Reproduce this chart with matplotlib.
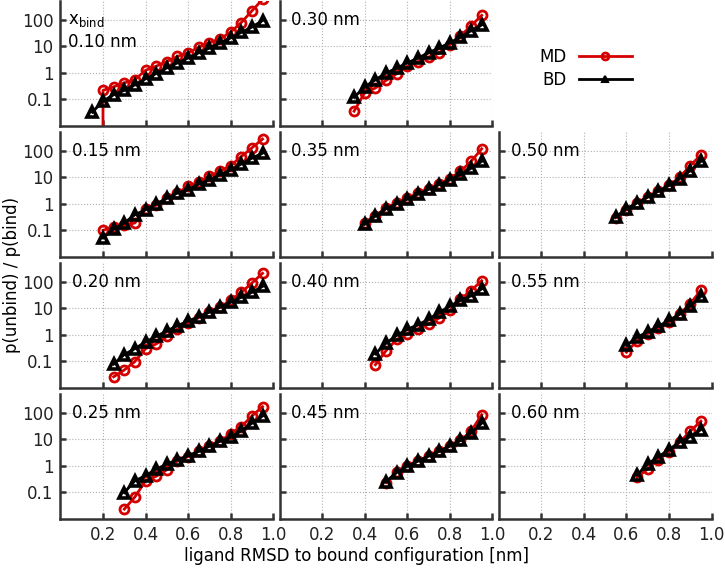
import matplotlib
matplotlib.use('Agg')
from matplotlib import pyplot as plt

# ligand RMSD grid (nm); each panel uses the last len(values) points
rmsd = [0.15, 0.20, 0.25, 0.30, 0.35, 0.40, 0.45, 0.50, 0.55,
        0.60, 0.65, 0.70, 0.75, 0.80, 0.85, 0.90, 0.95]

# x_bind of each panel, in column order (None = legend panel)
x_bind = [
    ['0.10', '0.30', None],
    ['0.15', '0.35', '0.50'],
    ['0.20', '0.40', '0.55'],
    ['0.25', '0.45', '0.60'],
]

md = {
    '0.10': [0, 0.22, 0.30, 0.42, 0.56, 1.26, 1.8, 2.7, 4.2, 5.7, 9.3, 14, 19, 35, 80, 220, 600],
    '0.15': [0.10, 0.14, 0.155, 0.19, 0.66, 0.88, 1.7, 2.6, 4.6, 6.6, 11, 17, 28, 61, 130, 280],
    '0.20': [0.026, 0.047, 0.098, 0.30, 0.45, 0.87, 1.66, 2.7, 4.4, 7.3, 11, 20, 40, 90, 210],
    '0.25': [0.023, 0.066, 0.27, 0.40, 0.70, 1.5, 2.2, 3.5, 5.5, 8.4, 16, 30, 75, 170],
    '0.30': [0.036, 0.18, 0.27, 0.52, 0.93, 1.8, 2.7, 4.0, 5.6, 11.5, 25, 60, 150],
    '0.35': [0.19, 0.35, 0.70, 1.1, 1.6, 2.5, 3.8, 5.5, 9, 17, 40, 120],
    '0.40': [0.074, 0.25, 0.67, 1.05, 1.7, 2.5, 4.3, 8.3, 22, 47, 110],
    '0.45': [0.23, 0.60, 1.0, 1.5, 2.3, 3.5, 5.5, 9, 20, 85],
    '0.50': [0.30, 0.60, 1.1, 1.8, 3.0, 5.0, 10, 28, 70],
    '0.55': [0.22, 0.60, 1.1, 1.8, 3.0, 6.0, 15, 48],
    '0.60': [0.37, 0.75, 1.7, 3.3, 7.6, 20, 48],
}

bd = {
    '0.10': [0.033, 0.087, 0.15, 0.22, 0.36, 0.60, 0.95, 1.55, 2.4, 3.7, 5.7, 8.7, 13.5, 21, 34, 54, 95],
    '0.15': [0.052, 0.11, 0.19, 0.39, 0.60, 1.0, 1.6, 2.6, 3.4, 5.6, 8.1, 12.5, 19, 32, 53, 82],
    '0.20': [0.078, 0.18, 0.30, 0.54, 0.87, 1.4, 2.2, 3.3, 4.8, 7.2, 11, 17, 26, 40, 67],
    '0.25': [0.096, 0.27, 0.42, 0.74, 1.15, 1.7, 2.4, 3.5, 5.5, 8.4, 12, 21, 40, 75],
    '0.30': [0.12, 0.30, 0.55, 1.0, 1.5, 2.4, 3.6, 5.9, 8.6, 14, 22, 40, 65],
    '0.35': [0.17, 0.35, 0.65, 1.0, 1.5, 2.3, 3.5, 5.3, 8, 13, 22, 40],
    '0.40': [0.19, 0.48, 0.95, 1.6, 2.4, 3.8, 7, 12, 20, 30, 54],
    '0.45': [0.25, 0.55, 0.95, 1.5, 2.3, 3.5, 5.5, 9, 17, 40],
    '0.50': [0.32, 0.65, 1.1, 1.8, 3.0, 5.0, 9, 18, 40],
    '0.55': [0.40, 0.80, 1.3, 2.1, 3.5, 6.0, 12, 28],
    '0.60': [0.45, 1.15, 2.2, 4.0, 8.0, 12.5, 23],
}

x_ticks = [0.2, 0.4, 0.6, 0.8, 1.0]
y_ticks = [0.1, 1, 10, 100]
y_ticklabels = ['0.1', '1', '10', '100']

red = '#d40000'
dark = '#333333'

fig, axes = plt.subplots(4, 3, figsize=(7.25, 5.7), dpi=100)
fig.subplots_adjust(left=0.0834, right=0.9814, top=0.9974, bottom=0.09,
                    wspace=0.0305, hspace=0.052)

handles = None
for r in range(4):
    for c in range(3):
        ax = axes[r][c]
        key = x_bind[r][c]
        if key is None:
            ax.axis('off')
            continue
        n1 = len(md[key])
        n2 = len(bd[key])
        l1, = ax.plot(rmsd[-n1:], md[key], color=red, lw=2, marker='o', ms=6.5,
                      mfc='none', mec=red, mew=2, label='MD')
        l2, = ax.plot(rmsd[-n2:], bd[key], color='black', lw=2, marker='^', ms=7.5,
                      mfc='none', mec='black', mew=2.6, label='BD')
        if handles is None:
            handles = [l1, l2]
        ax.set_yscale('log')
        ax.set_ylim(0.01, 500)
        ax.set_xlim(0, 1)
        ax.set_xticks(x_ticks)
        ax.set_yticks(y_ticks)
        ax.minorticks_off()
        ax.grid(True, linestyle=':', color='#b0b0b0', lw=0.8)
        for s in ['top', 'right']:
            ax.spines[s].set_visible(False)
        for s in ['left', 'bottom']:
            ax.spines[s].set_linewidth(1.8)
            ax.spines[s].set_color(dark)
        ax.tick_params(direction='in', length=4, width=1.8, color=dark,
                       labelsize=12, pad=5, labelcolor='#222222')
        if c == 0:
            ax.set_yticklabels(y_ticklabels)
        else:
            ax.set_yticklabels([])
        if r == 3:
            ax.set_xticklabels(['%.1f' % t for t in x_ticks])
        else:
            ax.set_xticklabels([])
        tr = ax.get_yaxis_transform()
        if r == 0 and c == 0:
            ax.text(0.035, 100, r'x$_\mathregular{bind}$', transform=tr,
                    fontsize=12, va='center', ha='left')
            ax.text(0.035, 15, key + ' nm', transform=tr,
                    fontsize=12, va='center', ha='left')
        else:
            ax.text(0.055, 100, key + ' nm', transform=tr,
                    fontsize=12, va='center', ha='left')

leg = fig.legend(handles, ['MD', 'BD'], loc='center', bbox_to_anchor=(0.808, 0.880),
                 frameon=False, markerfirst=False, numpoints=1, fontsize=12,
                 handlelength=3.2, handletextpad=0.7, labelspacing=0.3)
for h in leg.legend_handles:
    h.set_markersize(5)
leg.legend_handles[1].set_markerfacecolor('black')
leg.legend_handles[1].set_markeredgewidth(1.5)

fig.text(357 / 725, 1 - 556 / 570, 'ligand RMSD to bound configuration [nm]',
         ha='center', va='center', fontsize=12)
fig.text(12 / 725, 1 - 275 / 570, 'p(unbind) / p(bind)', rotation=90,
         ha='center', va='center', fontsize=12)

fig.savefig('out.png', dpi=100)
